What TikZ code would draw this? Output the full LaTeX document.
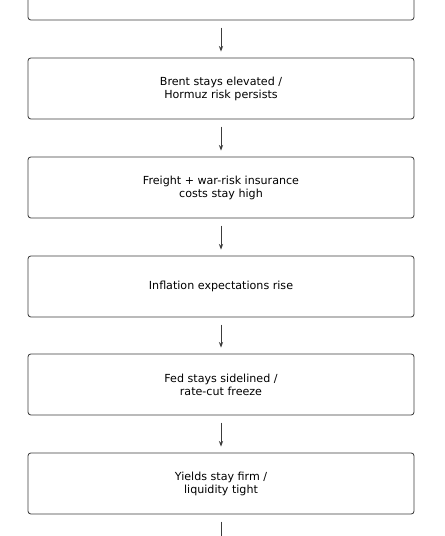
\documentclass[tikz,border=0pt]{standalone}
\usepackage{fontspec}
\setmainfont{DejaVu Sans}
\usetikzlibrary{arrows.meta,positioning}
\definecolor{edgegray}{RGB}{60,60,60}
\tikzset{
    stepbox/.style={
        rectangle,
        draw=edgegray,
        line width=0.6pt,
        rounded corners=2pt,
        minimum width=9.65cm,
        minimum height=1.525cm,
        align=center,
        font=\fontsize{7.9}{9.3}\selectfont
    },
    flow/.style={
        -{Stealth[length=4pt,width=3pt]},
        edgegray,
        line width=0.6pt,
        shorten <=0.18cm,
        shorten >=0.15cm
    }
}
\begin{document}
\begin{tikzpicture}
    \useasboundingbox (0,0) rectangle (11.125,13.4);

    % Chain of boxes
    \node[stepbox] (top) at (5.525,13.6625) {};
    \node[stepbox] (brent) at (5.525,11.1875) {Brent stays elevated /\\Hormuz risk persists};
    \node[stepbox] (freight) at (5.525,8.7125) {Freight + war-risk insurance\\costs stay high};
    \node[stepbox] (infl) at (5.525,6.2375) {Inflation expectations rise};
    \node[stepbox] (fed) at (5.525,3.7875) {Fed stays sidelined /\\rate-cut freeze};
    \node[stepbox] (yields) at (5.525,1.3125) {Yields stay firm /\\liquidity tight};
    \coordinate (next) at (5.525,-0.9);

    % Arrows between steps
    \draw[flow] (top) -- (brent);
    \draw[flow] (brent) -- (freight);
    \draw[flow] (freight) -- (infl);
    \draw[flow] (infl) -- (fed);
    \draw[flow] (fed) -- (yields);
    \draw[flow] (yields) -- (next);
\end{tikzpicture}
\end{document}
